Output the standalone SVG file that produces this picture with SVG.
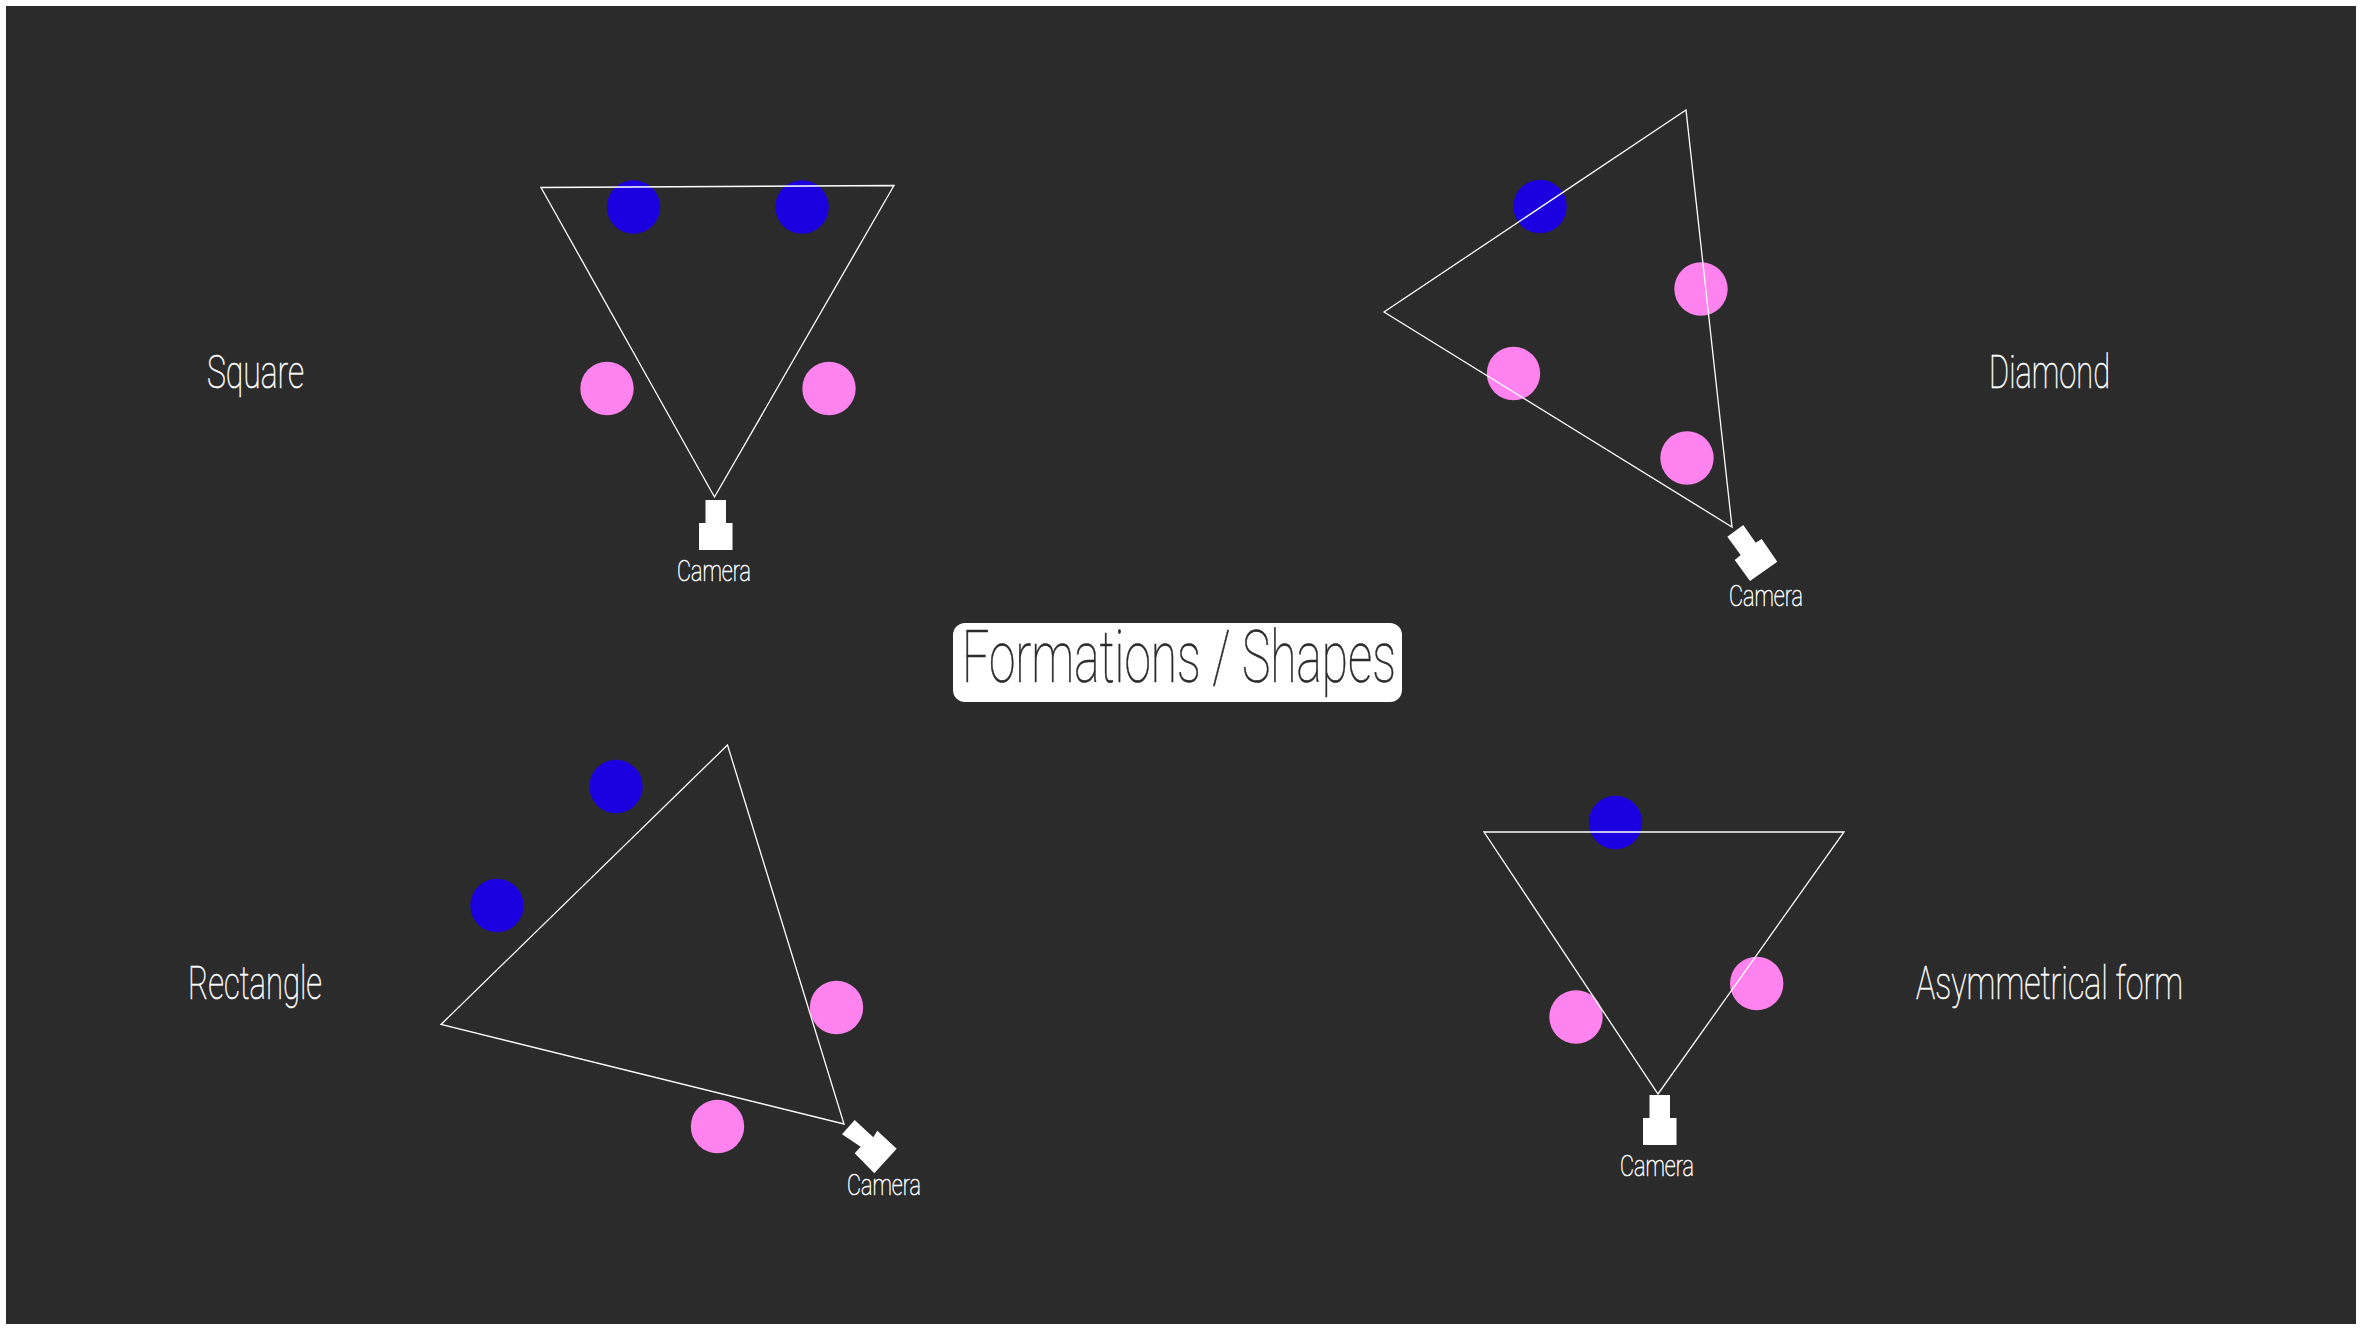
<svg xmlns="http://www.w3.org/2000/svg" width="2362" height="1330" viewBox="0 0 2362 1330">
<style>
.tri{fill:none;stroke:#fff;stroke-width:1.3;stroke-linejoin:miter}
.b{fill:#1b00e0}.p{fill:#ff83ee}.cam{fill:#fff}
text{font-family:"Roboto","Liberation Sans",sans-serif;font-weight:100;fill:#fff;stroke:#fff;stroke-width:.6}
.lab{font-size:46px}.c{font-size:30px}
</style>
<rect width="2362" height="1330" fill="#fff"/>
<rect x="6" y="6" width="2350" height="1318" fill="#2b2b2b"/>
<g id="title"><rect x="953" y="623" width="449" height="79" rx="12" fill="#fff"/>
<text x="962" y="682" font-size="72" textLength="434" lengthAdjust="spacingAndGlyphs" style="fill:#2b2b2b;stroke:#2b2b2b">Formations / Shapes</text></g>
<g id="square">
<circle class="b" cx="633.5" cy="207" r="26.7"/><circle class="b" cx="802" cy="207" r="26.7"/><circle class="p" cx="607" cy="388.5" r="26.7"/><circle class="p" cx="829" cy="388.5" r="26.7"/>
<polygon class="cam" points="705.5,500 726,500 726,523 732.5,523 732.5,550 699,550 699,523 705.5,523"/>
<text class="c" x="677" y="581" textLength="74" lengthAdjust="spacingAndGlyphs">Camera</text>
<text class="lab" x="207" y="388" textLength="97" lengthAdjust="spacingAndGlyphs">Square</text>
</g>
<g id="diamond">
<circle class="b" cx="1540" cy="206.5" r="26.7"/><circle class="p" cx="1701" cy="289" r="26.7"/><circle class="p" cx="1513.5" cy="373.5" r="26.7"/><circle class="p" cx="1687" cy="458" r="26.7"/>
<polygon class="cam" points="1727.3,536.7 1743.3,525 1755.7,542.7 1761.7,539 1777.3,561.7 1750,581 1734.7,560 1740.7,555"/>
<text class="c" x="1729" y="606" textLength="74" lengthAdjust="spacingAndGlyphs">Camera</text>
<text class="lab" x="1989" y="388" textLength="121" lengthAdjust="spacingAndGlyphs">Diamond</text>
</g>
<g id="rectangle">
<circle class="b" cx="616" cy="786.5" r="26.7"/><circle class="b" cx="497" cy="905.5" r="26.7"/><circle class="p" cx="836.5" cy="1007.5" r="26.7"/><circle class="p" cx="717.5" cy="1126.5" r="26.7"/>
<polygon class="cam" points="842,1134.3 854.7,1120 873.3,1137.3 877.3,1130.7 896.7,1148.7 874.3,1173.3 854.7,1153.3 860.7,1146.7"/>
<text class="c" x="847" y="1195" textLength="74" lengthAdjust="spacingAndGlyphs">Camera</text>
<text class="lab" x="188" y="999" textLength="134" lengthAdjust="spacingAndGlyphs">Rectangle</text>
</g>
<g id="asymmetrical">
<circle class="b" cx="1615.5" cy="822.5" r="26.7"/><circle class="p" cx="1756.7" cy="983.5" r="26.7"/><circle class="p" cx="1576" cy="1017" r="26.7"/>
<polygon class="cam" points="1649.5,1095 1670,1095 1670,1118 1676.5,1118 1676.5,1145 1643,1145 1643,1118 1649.5,1118"/>
<text class="c" x="1620" y="1176" textLength="74" lengthAdjust="spacingAndGlyphs">Camera</text>
<text class="lab" x="1916" y="999" textLength="267" lengthAdjust="spacingAndGlyphs">Asymmetrical form</text>
</g>
<g id="connectors">
<polygon class="tri" points="541,187.5 894,185.5 714.5,497"/>
<polygon class="tri" points="1686,110 1384,312 1732,527"/>
<polygon class="tri" points="727.5,745 441,1024.5 844,1124"/>
<polygon class="tri" points="1484,832 1844,832 1658,1094"/>
</g>
</svg>
